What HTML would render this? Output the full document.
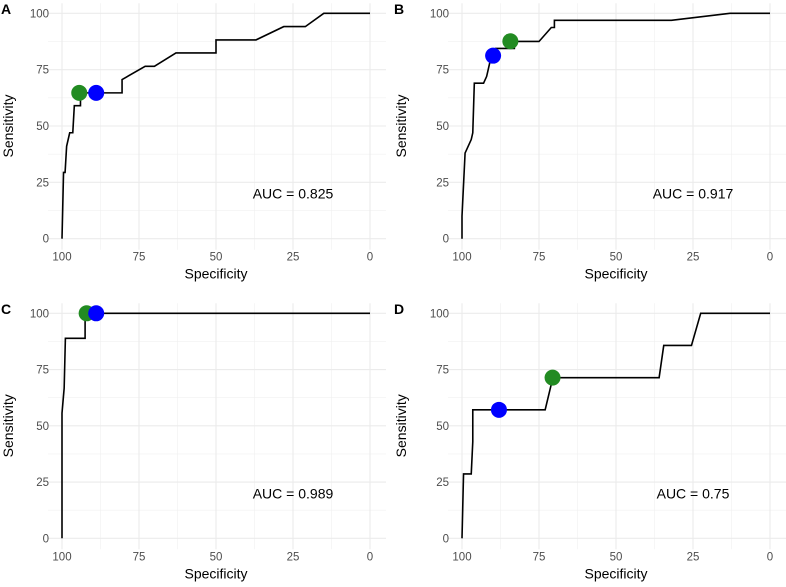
<!DOCTYPE html>
<html><head><meta charset="utf-8"><style>
html,body{margin:0;padding:0;background:#fff;}
svg{display:block;font-family:"Liberation Sans",Arial,sans-serif;}
</style></head><body>
<svg id="c" width="786" height="587" viewBox="0 0 786 587"></svg>
<script>
const ticks = [100, 75, 50, 25, 0];
const tickLabels = ["100", "75", "50", "25", "0"];
const panelLetters = ["A", "B", "C", "D"];
const aucLabels = ["AUC = 0.825", "AUC = 0.917", "AUC = 0.989", "AUC = 0.75"];
const specA = [100,99.5,99.0,98.5,97.5,96.5,96,94,94,80.5,80.5,73,70,63,50,50,37,28,21,15,0];
const sensA = [0,29.4,29.4,41,47,47,59,59,64.7,64.7,70.6,76.5,76.5,82.4,82.4,88.2,88.2,94.1,94.1,100,100];
const specB = [100,100,99,97,96.5,96,93,92,91.5,91,89,89,83,83,75,71,70,70,32,13,0];
const sensB = [0,10,38,44,47,69,69,72,75,78,81.2,84.4,84.4,87.5,87.5,93.7,93.7,96.9,96.9,100,100];
const specC = [100,100,99.3,98.9,92.5,92.5,0];
const sensC = [0,55.6,66.7,88.9,88.9,100,100];
const specD = [100,99.5,97,96.5,96.5,73,70.5,36,34.5,25.5,22.5,0];
const sensD = [0,28.6,28.6,42.9,57.1,57.1,71.4,71.4,85.7,85.7,100,100];
const greenSpec = [94.4, 84.3, 92.0, 70.6];
const greenSens = [64.7, 87.6, 100, 71.4];
const blueSpec = [88.9, 89.9, 88.9, 88.0];
const blueSens = [64.7, 81.2, 100, 57.1];
const aucSpec = [25, 25, 25, 25];
const aucSens = 20;

const specs=[specA,specB,specC,specD], senss=[sensA,sensB,sensC,sensD];
const panels=[{x0:62,x1:370,y0:238.7,y1:13.3,oy:0,ox:0},{x0:462,x1:770,y0:238.7,y1:13.3,oy:0,ox:393},
{x0:62,x1:370,y0:538.3,y1:313.3,oy:300,ox:0},{x0:462,x1:770,y0:538.3,y1:313.3,oy:300,ox:393}];
const svg=document.getElementById('c');
const NS="http://www.w3.org/2000/svg";
function mk(t,a,p){const e=document.createElementNS(NS,t);for(const k in a)e.setAttribute(k,a[k]);(p||svg).appendChild(e);return e;}
panels.forEach((p,i)=>{
  const sx=v=>p.x0+(100-v)/100*(p.x1-p.x0);
  const sy=v=>p.y0+v/100*(p.y1-p.y0);
  const g=mk('g',{});
  
  
  const L=p.x0-14,R=p.x1+16,T=p.y1-10,B=p.y0+11;
  [87.5,62.5,37.5,12.5].forEach(v=>{
    mk('line',{x1:sx(v),x2:sx(v),y1:T,y2:B,stroke:'#f0f0f0','stroke-width':0.6},g);
    mk('line',{x1:L,x2:R,y1:sy(v),y2:sy(v),stroke:'#f0f0f0','stroke-width':0.6},g);
  });
  ticks.forEach((v,j)=>{
    mk('line',{x1:sx(v),x2:sx(v),y1:T,y2:B,stroke:'#ebebeb','stroke-width':1.1},g);
    mk('line',{x1:L,x2:R,y1:sy(v),y2:sy(v),stroke:'#ebebeb','stroke-width':1.1},g);
    const tx=mk('text',{x:sx(v),y:p.y0+22,'font-size':11.5,fill:'#4d4d4d','text-anchor':'middle'},g);
    tx.textContent=tickLabels[j];
    
    
    const ty=mk('text',{x:p.x0-13,y:sy(v)+4,'font-size':11.5,fill:'#4d4d4d','text-anchor':'end'},g);
    ty.textContent=tickLabels[j];
    
    
  });
  const xs=specs[i], ys=senss[i];
  const pts=xs.map((v,k)=>sx(v)+','+sy(ys[k])).join(' ');
  const line=mk('polyline',{points:pts,fill:'none',stroke:'#000','stroke-width':1.6},g);
  
  
  const gd=mk('circle',{cx:sx(greenSpec[i]),cy:sy(greenSens[i]),r:8,fill:'#228b22'},g);
  
  
  const bd=mk('circle',{cx:sx(blueSpec[i]),cy:sy(blueSens[i]),r:8,fill:'#0000ff'},g);
  
  
  const at=mk('text',{x:sx(aucSpec[i]),y:sy(aucSens)+5,'font-size':14,fill:'#000','text-anchor':'middle'},g);
  at.textContent=aucLabels[i];
  
  
  const xt=mk('text',{x:(p.x0+p.x1)/2,y:p.y0+40,'font-size':14,fill:'#000','text-anchor':'middle'},g);
  xt.textContent='Specificity';
  
  
  const cy=(p.y0+p.y1)/2, cx=p.ox+13;
  const yt=mk('text',{x:cx,y:cy,'font-size':14,fill:'#000','text-anchor':'middle',transform:'rotate(-90 '+cx+' '+cy+')'},g);
  yt.textContent='Sensitivity';
  
  
  const pl=mk('text',{x:p.ox+1,y:p.oy+14,'font-size':14,'font-weight':'bold',fill:'#000'},g);
  pl.textContent=panelLetters[i];
  
  
});
</script>
</body></html>
